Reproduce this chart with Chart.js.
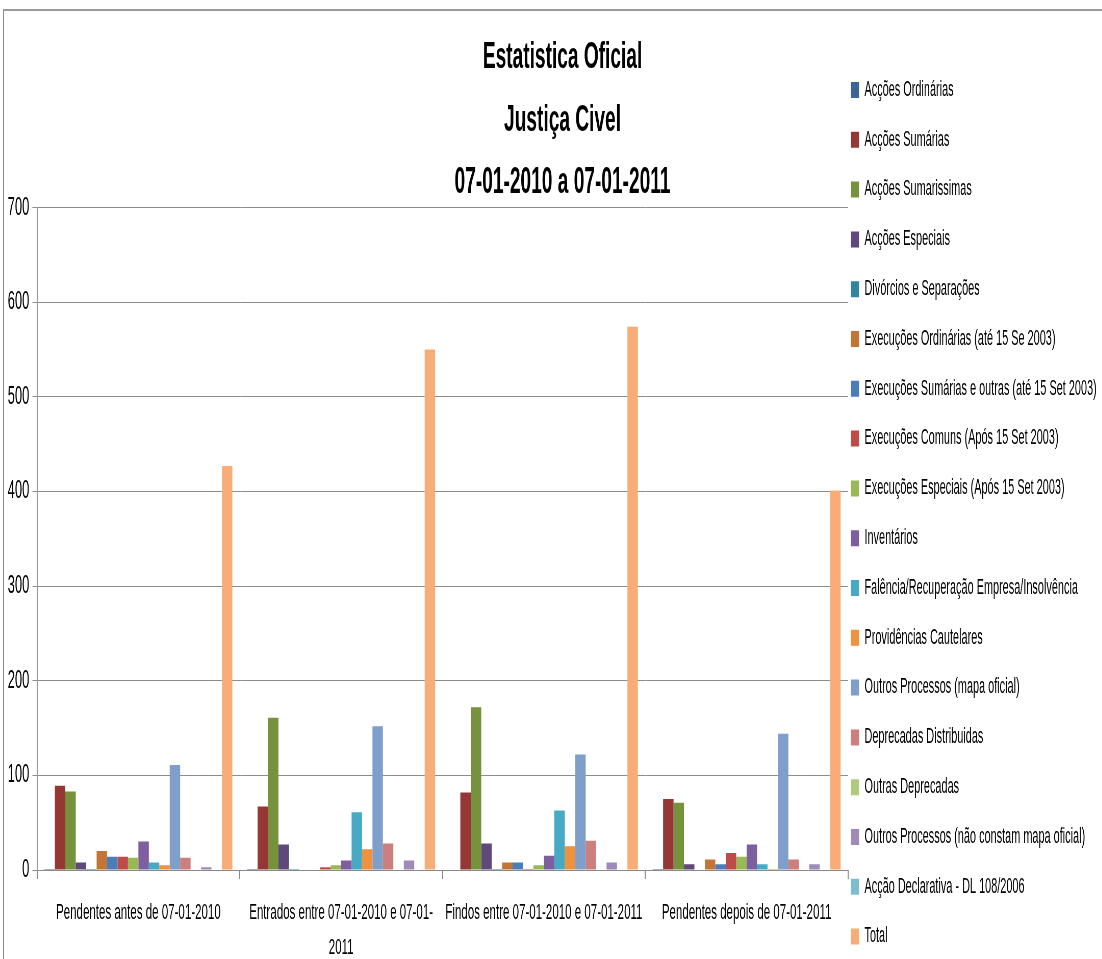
<!DOCTYPE html>
<html>
<head>
<meta charset="utf-8">
<script src="https://cdn.jsdelivr.net/npm/chart.js@4.4.1/dist/chart.umd.min.js"></script>
<style>
  html, body { margin: 0; padding: 0; background: #fff; overflow: hidden; width: 1102px; height: 959px; }
  #wrap { position: absolute; left: 0; top: 0; width: 2206px; height: 959px; transform: scaleX(0.51); transform-origin: 0 0; }
  #frame { position: absolute; left: 3px; top: 9px; width: 1200px; height: 1000px;
           border-top: 2px solid #9a9a9a; border-left: 1px solid #8a8a8a; pointer-events: none; }
</style>
</head>
<body>
<div id="wrap"><canvas id="c" width="2206" height="959"></canvas></div>
<div id="frame"></div>
<script>
// Horizontal squeeze applied to the whole drawing (condensed look of the sheet export)
const SQUEEZE = 0.51;

const categories = [
  'Pendentes antes de 07-01-2010',
  ['Entrados entre 07-01-2010 e 07-01-', '2011'],
  'Findos entre 07-01-2010 e 07-01-2011',
  'Pendentes depois de 07-01-2011'
];

const titleLines = ['Estatistica Oficial', 'Justiça Civel', '07-01-2010 a 07-01-2011'];

const seriesNames = [
  'Acções Ordinárias',
  'Acções Sumárias',
  'Acções Sumarissimas',
  'Acções Especiais',
  'Divórcios e Separações',
  'Execuções Ordinárias (até 15 Se 2003)',
  'Execuções Sumárias e outras (até 15 Set 2003)',
  'Execuções Comuns (Após 15 Set 2003)',
  'Execuções Especiais (Após 15 Set 2003)',
  'Inventários',
  'Falência/Recuperação Empresa/Insolvência',
  'Providências Cautelares',
  'Outros Processos (mapa oficial)',
  'Deprecadas Distribuidas',
  'Outras Deprecadas',
  'Outros Processos (não constam mapa oficial)',
  'Acção Declarativa - DL 108/2006',
  'Total'
];

const seriesColors = [
  '#3c6496', '#953735', '#76923c', '#5f497a', '#31859c', '#c27535',
  '#4a7ebb', '#be4b48', '#98b954', '#7d5fa0', '#46aac5', '#f0913e',
  '#7f9fca', '#cd7f7e', '#afc97f', '#9e8bba', '#7ebcd0', '#f8ad78'
];

// Values per series, one entry per category
const acoesOrdinarias      = [1, 1, 0, 1];
const acoesSumarias        = [89, 67, 82, 75];
const acoesSumarissimas    = [83, 161, 172, 71];
const acoesEspeciais       = [8, 27, 28, 6];
const divorcios            = [1, 1, 1, 0];
const execOrdinarias       = [20, 0, 8, 11];
const execSumarias         = [14, 0, 8, 6];
const execComuns           = [14, 3, 1, 18];
const execEspeciais        = [13, 5, 5, 14];
const inventarios          = [30, 10, 15, 27];
const falencia             = [8, 61, 63, 6];
const providencias         = [5, 22, 25, 1];
const outrosMapa           = [111, 152, 122, 144];
const deprecadasDistrib    = [13, 28, 31, 11];
const outrasDeprecadas     = [0, 0, 0, 0];
const outrosNaoMapa        = [3, 10, 8, 6];
const accaoDeclarativa     = [0, 0, 0, 0];
const total                = [427, 550, 574, 401];

const seriesValues = [
  acoesOrdinarias, acoesSumarias, acoesSumarissimas, acoesEspeciais, divorcios,
  execOrdinarias, execSumarias, execComuns, execEspeciais, inventarios, falencia,
  providencias, outrosMapa, deprecadasDistrib, outrasDeprecadas, outrosNaoMapa,
  accaoDeclarativa, total
];

const yTicks = { min: 0, max: 700, step: 100 };

const FONT = "'Liberation Sans', Arial, sans-serif";
const PLOT_LEFT = 37 / SQUEEZE;
const PLOT_RIGHT = 848 / SQUEEZE;
const LEGEND_FONT = 21.4;
const LEGEND_PAD = 49.8 - LEGEND_FONT;

// Keeps the legend column next to the plot and starting near the top
const legendPlacement = {
  id: 'legendPlacement',
  afterInit(chart) {
    const lg = chart.legend;
    const baseFit = lg.fit;
    lg.fit = function () {
      baseFit.call(this);
      this.width = chart.width - PLOT_RIGHT;
    };
  },
  afterLayout(chart) {
    const lg = chart.legend;
    lg.left = chart.chartArea.right + 3 / SQUEEZE - LEGEND_PAD;
    lg.top = 90 - LEGEND_FONT / 2 - LEGEND_PAD;
    lg.bottom = lg.top + 940;
  }
};

Chart.defaults.font.family = FONT;
Chart.defaults.color = '#000';

new Chart(document.getElementById('c'), {
  type: 'bar',
  data: {
    labels: categories,
    datasets: seriesNames.map((name, i) => ({
      label: name,
      data: seriesValues[i],
      backgroundColor: seriesColors[i],
      borderWidth: 0,
      barPercentage: 1,
      categoryPercentage: 0.927
    }))
  },
  options: {
    responsive: false,
    maintainAspectRatio: false,
    animation: false,
    devicePixelRatio: 1,
    layout: { padding: 0 },
    plugins: {
      tooltip: { enabled: false },
      title: {
        display: true,
        text: titleLines,
        color: '#000',
        font: { family: FONT, size: 37.5, weight: 'bold', lineHeight: '62.5px' },
        padding: { top: 26.75, bottom: -6.75 }
      },
      legend: {
        display: true,
        position: 'right',
        align: 'start',
        labels: {
          boxWidth: 8 / SQUEEZE,
          boxHeight: 16,
          padding: LEGEND_PAD,
          color: '#000',
          font: { family: FONT, size: LEGEND_FONT }
        }
      }
    },
    scales: {
      x: {
        grid: {
          display: true,
          drawOnChartArea: false,
          drawTicks: true,
          tickLength: 9,
          color: '#8a8a8a',
          lineWidth: 2,
          offset: true
        },
        border: { display: true, color: '#8a8a8a', width: 1 },
        ticks: {
          color: '#000',
          font: { family: FONT, size: 22.6, lineHeight: '35px' },
          padding: 16.5,
          maxRotation: 0,
          minRotation: 0,
          autoSkip: false
        },
        afterFit(axis) { axis.height = 89; }
      },
      y: {
        min: yTicks.min,
        max: yTicks.max,
        grid: {
          color: '#8c8c8c',
          lineWidth: 1,
          drawTicks: true,
          tickLength: 9
        },
        border: { display: true, color: '#9a9a9a', width: 2 },
        ticks: {
          stepSize: yTicks.step,
          color: '#000',
          font: { family: FONT, size: 25.5 },
          padding: 6
        },
        afterFit(axis) { axis.width = PLOT_LEFT; }
      }
    }
  },
  plugins: [legendPlacement]
});
</script>
</body>
</html>
